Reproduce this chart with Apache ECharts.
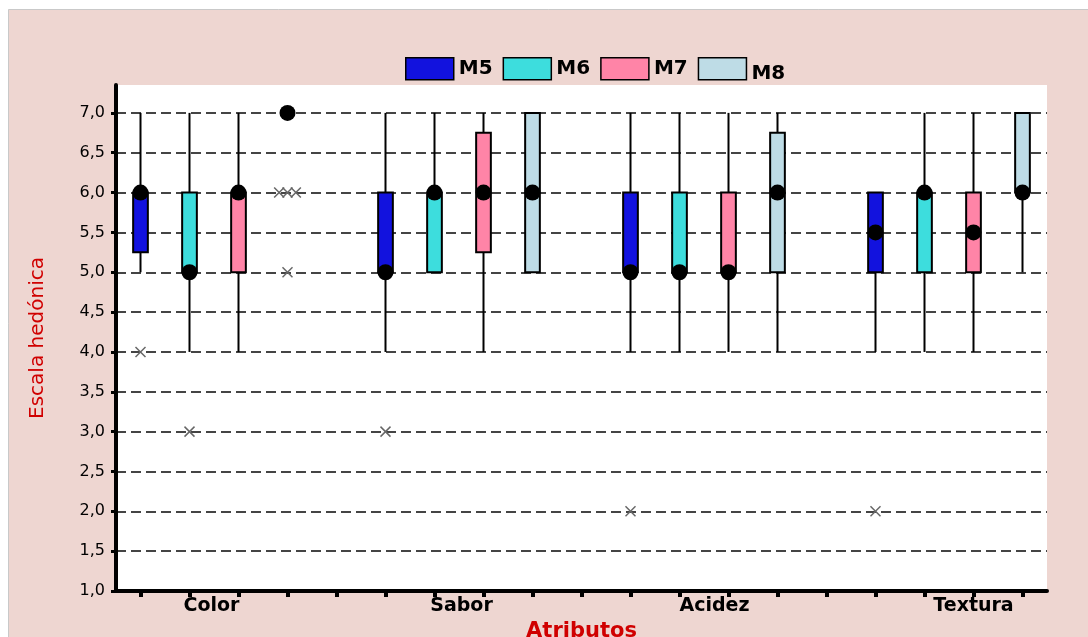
<!DOCTYPE html>
<html>
<head>
<meta charset="utf-8">
<script src="https://cdn.jsdelivr.net/npm/echarts@6/dist/echarts.min.js"></script>
<style>
html,body{margin:0;padding:0;background:#fff;}
#chart{width:1088px;height:637px;}
</style>
</head>
<body>
<div id="chart"></div>
<script>
// ---- Data ----
const attributes = ['Color', 'Sabor', 'Acidez', 'Textura'];
const groups = ['M5', 'M6', 'M7', 'M8'];
// each entry: [min, Q1, median, Q3, max] per attribute
const statsM5 = [[5, 5.25, 6, 6, 7], [4, 5, 5, 6, 7], [4, 5, 5, 6, 7], [4, 5, 5.5, 6, 6]];
const statsM6 = [[4, 5, 5, 6, 7], [5, 5, 6, 6, 7], [4, 5, 5, 6, 7], [4, 5, 6, 6, 7]];
const statsM7 = [[4, 5, 6, 6, 7], [4, 5.25, 6, 6.75, 7], [4, 5, 5, 6, 7], [4, 5, 5.5, 6, 7]];
const statsM8 = [[7, 7, 7, 7, 7], [5, 5, 6, 7, 7], [4, 5, 6, 6.75, 7], [5, 6, 6, 7, 7]];
// outliers: [attributeIndex, value]
const outliersM5 = [[0, 4], [1, 3], [2, 2], [3, 2]];
const outliersM6 = [[0, 3]];
const outliersM7 = [];
const outliersM8 = [[0, 6], [0, 6], [0, 6], [0, 5]];
const yMin = 1, yMax = 7.35, yStep = 0.5;

const allStats = [statsM5, statsM6, statsM7, statsM8];
const allOutliers = [outliersM5, outliersM6, outliersM7, outliersM8];
const groupColors = ['#1212DE', '#3DDDDD', '#FF84A7', '#BEDCE6'];

const perAttr = groups.length + 1;
const slotCount = attributes.length * perAttr - 1;
const slots = [];
for (let i = 0; i < slotCount; i++) {
  const a = Math.floor(i / perAttr), g = i % perAttr;
  slots.push(g < groups.length ? attributes[a] + '|' + groups[g] : '');
}
const slotIdx = (a, g) => a * perAttr + g;

// category label placement (which slot carries the label, and shift in px)
const labelSlot = {1: {name: 'Color', shift: 44}, 6: {name: 'Sabor', shift: 54}, 11: {name: 'Acidez', shift: 70}, 17: {name: 'Textura', shift: 0}};

function renderBox(params, api) {
  const x = api.value(0);
  const band = api.size([1, 0])[0];
  const w = band * 0.3;
  const vMin = api.value(1), q1 = api.value(2), med = api.value(3), q3 = api.value(4), vMax = api.value(5);
  const pMin = api.coord([x, vMin]), pQ1 = api.coord([x, q1]), pMed = api.coord([x, med]),
        pQ3 = api.coord([x, q3]), pMax = api.coord([x, vMax]);
  const cx = pMed[0];
  const children = [];
  const lineStyle = {stroke: '#000', lineWidth: 2};
  if (vMax > q3) children.push({type: 'line', shape: {x1: cx, y1: pMax[1], x2: cx, y2: pQ3[1]}, style: lineStyle});
  if (vMin < q1) children.push({type: 'line', shape: {x1: cx, y1: pQ1[1], x2: cx, y2: pMin[1]}, style: lineStyle});
  if (q3 > q1) children.push({type: 'rect', shape: {x: cx - w / 2, y: pQ3[1], width: w, height: pQ1[1] - pQ3[1]},
    style: {fill: api.visual('color'), stroke: '#000', lineWidth: 2}});
  children.push({type: 'circle', shape: {cx: cx, cy: pMed[1], r: 8}, style: {fill: '#000'}});
  return {type: 'group', children: children};
}

function renderOutlier(params, api) {
  const x = api.value(0), v = api.value(1), j = api.value(2);
  const band = api.size([1, 0])[0];
  const p = api.coord([x, v]);
  const cx = p[0] + j * band * 0.17, cy = p[1], s = 5;
  const st = {stroke: '#666', lineWidth: 1.5};
  return {type: 'group', children: [
    {type: 'line', shape: {x1: cx - s, y1: cy - s, x2: cx + s, y2: cy + s}, style: st},
    {type: 'line', shape: {x1: cx - s, y1: cy + s, x2: cx + s, y2: cy - s}, style: st}
  ]};
}

const series = [];
groups.forEach((g, gi) => {
  series.push({
    name: g, type: 'custom', renderItem: renderBox,
    itemStyle: {color: groupColors[gi]},
    encode: {x: 0, y: [1, 2, 3, 4, 5]},
    data: allStats[gi].map((s, a) => [slotIdx(a, gi)].concat(s)),
    z: 3
  });
});
// outliers with spread for coincident values
const outData = [];
allOutliers.forEach((list, gi) => {
  const counts = {};
  list.forEach(o => { const k = o[0] + '_' + o[1]; counts[k] = (counts[k] || 0) + 1; });
  const seen = {};
  list.forEach(o => {
    const k = o[0] + '_' + o[1];
    const n = counts[k]; const i = seen[k] || 0; seen[k] = i + 1;
    outData.push([slotIdx(o[0], gi), o[1], i - (n - 1) / 2]);
  });
});
series.push({name: 'outliers', type: 'custom', renderItem: renderOutlier, encode: {x: 0, y: 1}, data: outData, z: 4});

const font = 'DejaVu Sans';
const chart = echarts.init(document.getElementById('chart'), null, {renderer: 'canvas'});
chart.setOption({
  animation: false,
  backgroundColor: '#fff',
  graphic: [{type: 'rect', left: 8, top: 9, shape: {width: 1100, height: 640},
    style: {fill: '#EED6D1', stroke: '#C9C9C9', lineWidth: 1}, z: -10, silent: true}],
  legend: {
    data: groups, left: 400, top: 52, itemWidth: 48, itemHeight: 22, itemGap: 10,
    icon: 'rect',
    itemStyle: {borderColor: '#000', borderWidth: 1.5},
    formatter: n => n === 'M8' ? '{low|' + n + '}' : n,
    textStyle: {fontFamily: font, fontSize: 20, fontWeight: 'bold', color: '#000',
      rich: {low: {fontFamily: font, fontSize: 20, fontWeight: 'bold', color: '#000', padding: [10, 0, 0, 0]}}}
  },
  grid: {left: 116, right: 41, top: 85, bottom: 46, show: true, backgroundColor: '#fff', borderWidth: 0,
    containLabel: false, outerBoundsMode: 'none'},
  xAxis: {
    type: 'category', data: slots, boundaryGap: true,
    name: 'Atributos', nameLocation: 'middle', nameGap: 28,
    nameTextStyle: {color: '#D00000', fontFamily: font, fontSize: 21, fontWeight: 'bold'},
    axisLine: {show: true, lineStyle: {color: '#000', width: 4}},
    axisTick: {show: true, alignWithLabel: true, interval: 0, length: 6, lineStyle: {color: '#000', width: 4}},
    axisLabel: {
      interval: 0, margin: 6,
      formatter: (v, i) => labelSlot[i] ? '{s' + i + '|' + labelSlot[i].name + '}' : '',
      rich: Object.fromEntries(Object.keys(labelSlot).map(k => ['s' + k,
        {fontFamily: font, fontSize: 19, fontWeight: 'bold', color: '#000', padding: [0, 0, 0, labelSlot[k].shift]}]))
    },
    splitLine: {show: false}
  },
  yAxis: {
    type: 'value', min: yMin, max: yMax, interval: yStep,
    name: 'Escala hedónica', nameLocation: 'middle', nameGap: 68,
    nameTextStyle: {color: '#D00000', fontFamily: font, fontSize: 20},
    axisLine: {show: true, lineStyle: {color: '#000', width: 4}},
    axisTick: {show: true, length: 5, lineStyle: {color: '#000', width: 3}},
    axisLabel: {showMaxLabel: false, margin: 11, fontFamily: font, fontSize: 16, color: '#000',
      formatter: v => v.toFixed(1).replace('.', ',')},
    splitLine: {show: true, showMaxLine: false, showMinLine: false, lineStyle: {color: '#444', width: 2, type: [10, 5]}}
  },
  series: series
});
</script>
</body>
</html>
